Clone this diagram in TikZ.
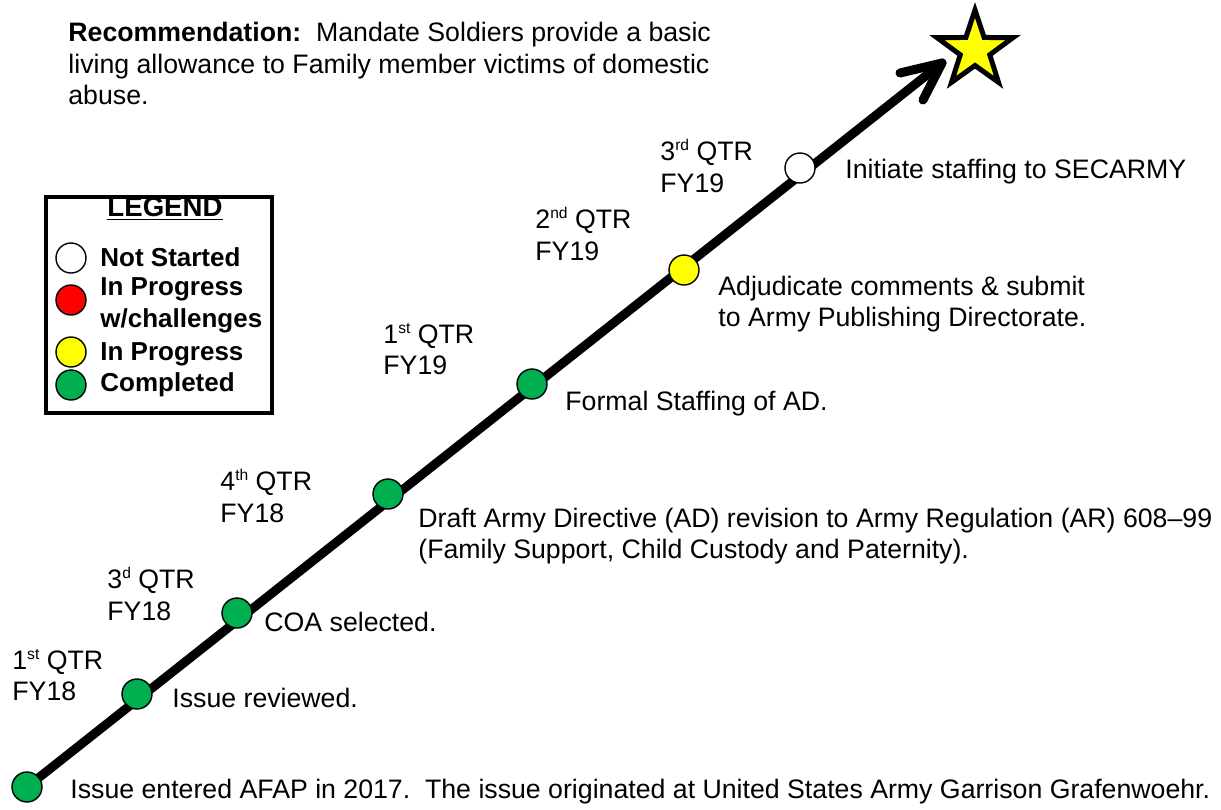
\documentclass[tikz,border=0pt]{standalone}
\usepackage{fontspec}
\setmainfont{Liberation Sans}
\usetikzlibrary{backgrounds}
\definecolor{donegreen}{HTML}{00B050}
\definecolor{wipyellow}{HTML}{FFFF00}
\definecolor{alertred}{HTML}{FF0000}
% ordinal suffix, set small and raised
\newcommand\ordsfx[1]{\raisebox{0.38em}{\fontsize{7.8}{8}\selectfont #1}}
\begin{document}
\begin{tikzpicture}[x=0.5pt,y=-0.5pt,
  txt/.style={font=\fontsize{13.35}{15.8}\selectfont, inner sep=0pt, align=left, anchor=west},
  legtxt/.style={txt, font=\fontsize{13}{16}\selectfont\bfseries},
  milestone/.style={circle, draw=black, line width=0.7pt, minimum size=15pt, inner sep=0pt},
  done/.style={milestone, fill=donegreen},
  wip/.style={milestone, fill=wipyellow},
  alert/.style={milestone, fill=alertred},
  todo/.style={milestone, fill=white},
  track/.style={line width=4.5pt, line cap=round, line join=round}
]
\useasboundingbox (0,0) rectangle (1221,809);

% recommendation text
\node[txt, anchor=north west] (rec) at (68,22)
  {\textbf{Recommendation:}\ \ Mandate Soldiers provide a basic\\
   living allowance to Family member victims of domestic\\
   abuse.};

% milestones along the timeline
\node[done] (m0) at (27,787) {};
\node[done] (m1) at (137,694) {};
\node[done] (m2) at (237,613) {};
\node[done] (m3) at (388,494) {};
\node[done] (m4) at (532,384) {};
\node[wip]  (m5) at (684,270) {};
\node[todo] (m6) at (800,168) {};
\coordinate (tip) at (942,63);

\begin{scope}[on background layer]
  \draw[track] (m0.center) -- (tip);
  \draw[track] (tip) ++(-42,10) -- (tip) -- ++(-19,37);
\end{scope}

% goal star
\draw[fill=wipyellow, line width=2.5pt, line join=miter]
  (975,50) +(270:40) -- +(306:15.5) -- +(342:40) -- +(18:15.5) -- +(54:40)
  -- +(90:15.5) -- +(126:40) -- +(162:15.5) -- +(198:40) -- +(234:15.5) -- cycle;

% quarter labels
\node[txt] (q1) at (12,675)  {1\ordsfx{st} QTR\\FY18};
\node[txt] (q2) at (107,594) {3\ordsfx{d} QTR\\FY18};
\node[txt] (q3) at (220,496) {4\ordsfx{th} QTR\\FY18};
\node[txt] (q4) at (383,349) {1\ordsfx{st} QTR\\FY19};
\node[txt] (q5) at (535,234) {2\ordsfx{nd} QTR\\FY19};
\node[txt] (q6) at (660,166) {3\ordsfx{rd} QTR\\FY19};

% milestone descriptions
\node[txt] (d0) at (70,792) {Issue entered AFAP in 2017.\ \ The issue originated at United States Army Garrison Grafenwoehr.};
\node[txt] (d1) at (172,698) {Issue reviewed.};
\node[txt] (d2) at (264,622) {COA selected.};
\node[txt] (d3) at (418,536) {Draft Army Directive (AD) revision to Army Regulation (AR) 608--99\\(Family Support, Child Custody and Paternity).};
\node[txt] (d4) at (565,404) {Formal Staffing of AD.};
\node[txt] (d5) at (718,304) {Adjudicate comments \& submit\\to Army Publishing Directorate.};
\node[txt] (d6) at (845,172) {Initiate staffing to SECARMY};

% legend
\node[draw, line width=2pt, minimum width=113pt, minimum height=108pt, inner sep=0pt, anchor=north west] (legend) at (44,195) {};
\node[legtxt, anchor=center, font=\fontsize{13.8}{16}\selectfont\bfseries] (legtitle) at (165,209) {\underline{LEGEND}};
\node[todo]  (l1) at (71,258) {};
\node[alert] (l2) at (71,300) {};
\node[wip]   (l3) at (71,352) {};
\node[done]  (l4) at (71,385) {};
\node[legtxt] (t1) at (100,257) {Not Started};
\node[legtxt] (t2) at (100,305) {In Progress\\w/challenges};
\node[legtxt] (t3) at (100,354) {In Progress};
\node[legtxt] (t4) at (100,385) {Completed};
\end{tikzpicture}
\end{document}
